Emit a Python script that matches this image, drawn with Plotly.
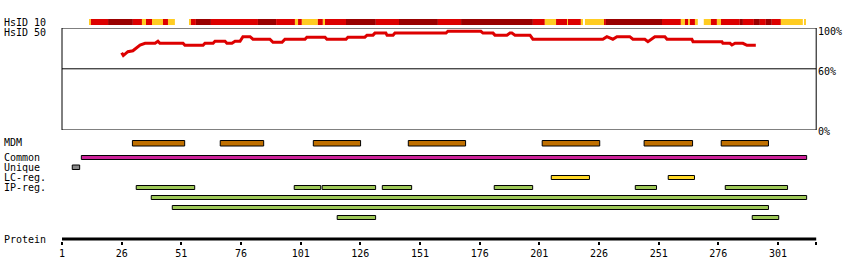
import plotly.graph_objects as go

# ---------------- data ----------------
PROTEIN_LENGTH = 317
tick_values = [1, 26, 51, 76, 101, 126, 151, 176, 201, 226, 251, 276, 301]

# HsID 50 identity profile (residue, % identity)
identity_residue = [26, 26.7, 28.6, 30.7, 33.7, 35.8, 40, 41.2, 42, 51.7,
                    52.5, 60.1, 60.9, 64.3, 65.1, 69.3, 70.1, 72.2, 73.5, 75.6,
                    76.8, 79.8, 81, 88.1, 89.4, 93.2, 94.4, 102.8, 103.6, 111.2,
                    112, 120, 120.8, 127.9, 128.8, 131.3, 132.1, 136.7, 137.2, 139.7,
                    140.5, 161.9, 162.7, 176.5, 177.4, 181.6, 182.4, 187.4, 188.7, 189.5,
                    190.8, 197.1, 198.3, 227.6, 229.3, 231.8, 233.5, 238.9, 240.2, 245.2,
                    246.5, 248.2, 249.4, 253.6, 254.5, 264.9, 265.4, 277.5, 277.9, 280.9,
                    281.7, 283, 286.3, 288, 291.7]
identity_value = [75.8, 73, 76.8, 77.7, 83.3, 85, 85, 87, 85, 85,
                  83, 83, 85, 85, 87, 87, 85, 85, 87, 87,
                  91.5, 91.5, 89, 89, 86, 86, 89, 89, 91, 91,
                  89, 89, 91, 91, 93, 93, 95, 95, 92.8, 92.8,
                  95, 95, 96.8, 96.8, 95, 95, 93, 93, 95, 95,
                  93, 93, 89, 89, 91.5, 89, 91.5, 91.5, 89, 89,
                  86.6, 89, 91.5, 91.5, 89, 89, 86.6, 86.6, 85, 85,
                  83.3, 85, 85, 83, 83]

# HsID 10 conservation bar: start, end, level (1 low, 2 mid, 3 high)
heat_start = [12.3, 13.1, 20.3, 30.7, 34.5, 36.2, 38.7, 43.3, 45.4,
              54.2, 55.0, 57.1, 63.4, 83.1, 90.7, 98.6, 99.9, 101.5, 108.2, 110.3,
              111.2, 120.0, 132.5, 142.2, 158.5, 168.2, 198.3, 203.3, 208.0, 212.6,
              213.0, 218.4, 220.1, 228.1, 228.9, 252.4, 260.3, 262.0, 263.3, 264.1,
              266.2, 269.9, 272.9, 275.4, 277.1, 285.0, 286.3, 290.9, 293.4, 295.9,
              298.4, 302.2, 311.9]
heat_end = [13.1, 20.3, 30.7, 34.5, 36.2, 38.7, 43.3, 45.4, 48.3,
            55.0, 57.1, 63.4, 83.1, 90.7, 98.6, 99.9, 101.5, 108.2, 110.3, 111.2,
            120.0, 132.5, 142.2, 158.5, 168.2, 198.3, 203.3, 208.0, 212.6, 213.0,
            218.4, 219.3, 228.1, 228.9, 252.4, 260.3, 262.0, 263.3, 264.1, 266.2,
            267.4, 272.9, 275.4, 277.1, 285.0, 286.3, 290.9, 293.4, 295.9, 298.4,
            302.2, 311.4, 312.7]
heat_level = [1, 2, 3, 2, 1, 2, 1, 2, 1,
              1, 2, 3, 2, 3, 2, 1, 2, 1, 2, 1,
              2, 3, 2, 3, 2, 3, 2, 1, 2, 1,
              2, 1, 1, 2, 3, 2, 1, 2, 1, 2,
              1, 1, 2, 1, 2, 3, 2, 3, 2, 3,
              2, 1, 1]

# feature tracks
mdm_start = [30.5, 67.3, 106.3, 146.1, 202.2, 244.9, 277.2]
mdm_end = [52.4, 85.5, 126.1, 170.1, 226.3, 265.2, 297.0]
common_start = [9.1]
common_end = [313.0]
unique_start = [5.3]
unique_end = [8.4]
lc_start = [206.0, 255.0]
lc_end = [222.0, 266.0]
ip_row1_start = [32.1, 98.3, 110.0, 135.2, 182.1, 241.2, 278.9]
ip_row1_end = [56.6, 109.4, 132.4, 147.5, 198.2, 250.1, 305.0]
ip_row2_start = [38.4]
ip_row2_end = [313.0]
ip_row3_start = [47.2]
ip_row3_end = [297.0]
ip_row4_start = [116.3, 290.2]
ip_row4_end = [132.4, 301.3]

track_labels = ["MDM", "Common", "Unique", "LC-reg.", "IP-reg."]

# ---------------- style / layout ----------------
W, H = 850, 280
X0_PX = 62.0          # pixel of residue 1
PX_PER_RES = 2.3867
x_range = [1 - X0_PX / PX_PER_RES, 1 + (W - X0_PX) / PX_PER_RES]

FONT = "DejaVu Sans Mono"
heat_colors = {1: "#ffcc22", 2: "#dd0000", 3: "#990000"}

fig = go.Figure()

fig.add_trace(go.Scatter(
    x=identity_residue, y=identity_value, xaxis="x", yaxis="y2",
    mode="lines", line=dict(color="#dd0000", width=3), hoverinfo="skip"))

shapes = []
# identity panel box and 60% line
shapes.append(dict(type="rect", xref="x", yref="y2", x0=1, x1=PROTEIN_LENGTH,
                   y0=0, y1=100, line=dict(color="black", width=1)))
shapes.append(dict(type="line", xref="x", yref="y2", x0=1, x1=PROTEIN_LENGTH,
                   y0=60, y1=60, line=dict(color="black", width=1)))

# heat bar
for s, e, lv in zip(heat_start, heat_end, heat_level):
    shapes.append(dict(type="rect", xref="x", yref="y", x0=s, x1=e, y0=19, y1=25,
                       fillcolor=heat_colors[lv], line=dict(width=0), layer="above"))


def add_track(starts, ends, ytop, ybot, color):
    for s, e in zip(starts, ends):
        shapes.append(dict(type="rect", xref="x", yref="y", x0=s, x1=e,
                           y0=ytop, y1=ybot, fillcolor=color,
                           line=dict(color="black", width=1)))


add_track(mdm_start, mdm_end, 140.5, 146, "#c07000")
add_track(common_start, common_end, 155.5, 159.5, "#cc2299")
add_track(unique_start, unique_end, 165, 169.5, "#888888")
add_track(lc_start, lc_end, 175.5, 179.5, "#ffd726")
add_track(ip_row1_start, ip_row1_end, 185.5, 189.5, "#9dc757")
add_track(ip_row2_start, ip_row2_end, 195.5, 199.5, "#9dc757")
add_track(ip_row3_start, ip_row3_end, 205.5, 209.5, "#9dc757")
add_track(ip_row4_start, ip_row4_end, 215.5, 219.5, "#9dc757")

# protein axis line
shapes.append(dict(type="line", xref="x", yref="y", x0=1, x1=PROTEIN_LENGTH,
                   y0=239, y1=239, line=dict(color="black", width=3)))

annotations = []
left_labels = [("HsID 10", 22.3), ("HsID 50", 32.3), ("MDM", 142.7),
               ("Common", 157.7), ("Unique", 167.7), ("LC-reg.", 177.7),
               ("IP-reg.", 187.7), ("Protein", 239.7)]
for txt, yc in left_labels:
    annotations.append(dict(text=txt, xref="paper", yref="y", x=2 / W, y=yc,
                            xanchor="left", yanchor="middle", showarrow=False,
                            font=dict(family=FONT, size=10, color="black")))
for txt, val, shift in [("100%", 100, -4), ("60%", 60, -3), ("0%", 0, -1)]:
    annotations.append(dict(text=txt, xref="x", yref="y2", x=PROTEIN_LENGTH, y=val,
                            xanchor="left", yanchor="middle", xshift=0, yshift=shift,
                            showarrow=False,
                            font=dict(family=FONT, size=10, color="black")))

fig.update_layout(
    width=W, height=H,
    margin=dict(l=0, r=0, t=0, b=0, pad=0),
    paper_bgcolor="white", plot_bgcolor="white",
    showlegend=False,
    shapes=shapes, annotations=annotations,
    xaxis=dict(domain=[0, 1], range=x_range, anchor="free", position=(H - 240.5) / H,
               tickvals=tick_values + [PROTEIN_LENGTH],
               ticktext=[str(t) for t in tick_values] + [""],
               ticks="outside", ticklen=3, tickwidth=2, tickcolor="black",
               showline=False, showgrid=False, zeroline=False,
               tickfont=dict(family=FONT, size=10, color="black"), fixedrange=True),
    yaxis=dict(domain=[0, 1], range=[H, 0], visible=False, fixedrange=True),
    yaxis2=dict(domain=[(H - 130) / H, (H - 28) / H], range=[0, 100], anchor="x",
                visible=False, fixedrange=True),
)

fig.write_html("out.html")
